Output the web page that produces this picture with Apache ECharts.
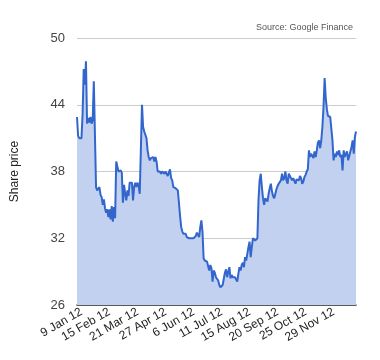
<!DOCTYPE html>
<html>
<head>
<meta charset="utf-8">
<script src="https://cdn.jsdelivr.net/npm/echarts@6/dist/echarts.min.js"></script>
<style>html,body{margin:0;padding:0;background:#fff}#c{width:380px;height:360px}</style>
</head>
<body>
<div id="c"></div>
<script>
const tickLabels = ['9 Jan 12','15 Feb 12','21 Mar 12','27 Apr 12','6 Jun 12','11 Jul 12','15 Aug 12','20 Sep 12','25 Oct 12','29 Nov 12'];
const tickStart = 4;
const tickEvery = 25;
const prices = [
42.9,41.2,41.0,41.1,41.0,43.2,47.2,45.8,47.9,42.3,
42.8,42.4,42.9,42.3,42.6,46.1,46.0,36.6,36.3,36.2,
36.6,35.9,35.7,35.0,35.5,34.7,34.3,34.6,33.9,34.6,
33.7,34.9,33.5,34.8,33.8,38.9,38.9,38.0,38.0,38.1,
37.9,35.2,36.8,36.0,35.4,36.3,35.8,37.0,36.9,37.0,
35.4,36.6,37.0,36.6,37.0,36.7,36.0,36.0,44.0,42.0,
41.6,41.3,41.0,39.9,39.3,39.0,39.2,39.1,39.3,38.9,
39.3,38.9,38.0,37.9,38.0,37.8,38.0,37.9,37.8,38.0,
37.8,37.6,37.9,38.2,37.4,37.2,36.6,36.6,36.5,36.4,
36.3,36.2,34.0,33.0,32.6,32.4,32.3,32.4,32.1,32.2,
32.0,32.0,32.0,32.0,32.0,32.1,32.2,32.5,32.4,32.1,
33.0,33.6,32.6,30.2,30.0,29.9,29.9,29.8,29.1,29.6,
29.3,28.1,29.1,28.9,28.5,28.4,28.2,27.8,27.6,27.5,
27.8,27.8,28.9,29.2,28.5,29.0,29.4,28.4,28.7,28.5,
28.4,28.5,28.6,28.1,28.8,29.4,29.1,29.6,29.8,29.4,
30.3,30.0,30.6,31.2,31.7,30.3,31.2,32.0,31.9,31.8,
31.9,32.0,35.5,37.2,37.8,36.6,35.6,35.0,35.6,35.5,
35.3,36.0,36.5,36.9,36.2,35.8,35.6,36.0,36.4,36.7,
36.9,36.8,37.2,37.8,37.2,37.4,38.0,37.2,36.9,37.8,
37.6,37.5,37.2,37.4,37.3,36.9,37.3,37.4,37.2,37.6,
37.4,36.9,37.1,37.5,37.7,38.0,38.2,39.9,39.3,39.6,
39.5,39.2,39.8,39.3,39.9,40.6,40.8,40.1,40.8,42.0,
43.8,46.4,44.6,43.6,43.0,42.9,42.9,42.9,40.8,39.0,
39.6,39.3,39.8,39.5,39.9,39.3,39.5,38.1,39.9,39.3,
39.6,39.8,39.0,39.4,39.5,40.2,40.8,39.6,41.1,41.6
];
const categories = prices.map((_, i) => i);
const yTicks = {min: 26, max: 50, step: 6};

const chart = echarts.init(document.getElementById('c'), null, {renderer: 'canvas'});
chart.setOption({
  animation: false,
  backgroundColor: '#fff',
  textStyle: {fontFamily: 'Liberation Sans, Arial, sans-serif'},
  graphic: [{
    type: 'text', right: 27, top: 23,
    style: {text: 'Source: Google Finance', fill: '#555', font: '9px "Liberation Sans", Arial, sans-serif'}
  }],
  grid: {left: 77, right: 24, top: 38, bottom: 55, containLabel: false},
  xAxis: {
    type: 'category',
    data: categories,
    boundaryGap: false,
    axisLine: {lineStyle: {color: '#333', width: 1.5}},
    axisTick: {show: false},
    splitLine: {show: false},
    axisLabel: {
      rotate: 30,
      margin: 6,
      fontSize: 12,
      color: '#222',
      interval: (i) => i >= tickStart && (i - tickStart) % tickEvery === 0,
      formatter: (v, i) => tickLabels[(i - tickStart) / tickEvery] || ''
    }
  },
  yAxis: {
    type: 'value',
    min: yTicks.min, max: yTicks.max, interval: yTicks.step,
    name: 'Share price',
    nameLocation: 'middle',
    nameRotate: 90,
    nameGap: 56,
    nameTextStyle: {fontSize: 12, color: '#222'},
    axisLine: {show: false},
    axisTick: {show: false},
    axisLabel: {fontSize: 13, color: '#444', margin: 12},
    splitLine: {lineStyle: {color: '#ccc', width: 1}}
  },
  series: [{
    type: 'line',
    data: prices,
    showSymbol: false,
    symbol: 'none',
    lineStyle: {color: '#3366cc', width: 2},
    areaStyle: {color: '#c2d1f0', opacity: 1},
    z: 1
  }]
});
</script>
</body>
</html>
